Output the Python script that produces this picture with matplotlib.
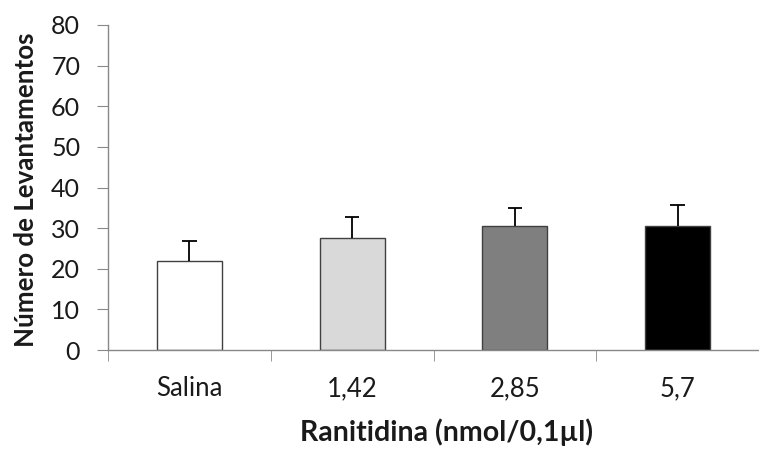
import matplotlib
matplotlib.use("Agg")
import matplotlib.pyplot as plt
import numpy as np

categories = ["Salina", "1,42", "2,85", "5,7"]
means = [22.0, 27.6, 30.6, 30.6]
errors = [4.9, 5.2, 4.4, 5.1]
colors = ["#ffffff", "#d9d9d9", "#7f7f7f", "#000000"]
yticks = [0, 10, 20, 30, 40, 50, 60, 70, 80]

plt.rcParams['font.family'] = ['Lato', 'DejaVu Sans']

fig = plt.figure(figsize=(7.59, 4.49), dpi=100)
ax = fig.add_axes([108/759, 1-350/449, 1-108/759, (350-25)/449])

x = np.arange(len(categories))
means_a = np.array(means)
errs_a = np.array(errors)
ax.bar(x, means_a, width=0.4, color=colors, edgecolor="#404040", linewidth=1.0, zorder=2)
ax.vlines(x, means_a, means_a + errs_a, color="black", linewidth=1.3, zorder=3)
ax.hlines(means_a + errs_a, x - 0.045, x + 0.045, color="black", linewidth=1.3, zorder=3)

ax.set_xlim(-0.5, len(categories) - 0.5)
ax.set_ylim(0, 80)
ax.set_yticks(yticks)
ax.set_yticklabels([str(v) for v in yticks])
ax.set_xticks(x)
ax.set_xticklabels(categories)
ax.set_xticks(np.arange(len(categories)) - 0.5, minor=True)
ax.tick_params(axis="x", which="major", length=0, pad=19, labelsize=18.5, labelcolor="#1a1a1a")
ax.tick_params(axis="x", which="minor", length=8, color="#888888", direction="out")
ax.tick_params(axis="y", length=8, color="#888888", direction="out", labelsize=18, pad=12, labelcolor="#1a1a1a")

for s in ["top", "right"]:
    ax.spines[s].set_visible(False)
for s in ["left", "bottom"]:
    ax.spines[s].set_color("#888888")
    ax.spines[s].set_linewidth(1.0)

ax.set_xlabel("Ranitidina (nmol/0,1µl)", fontsize=20.5, fontweight="bold", color="#1a1a1a")
ax.set_ylabel("Número de Levantamentos", fontsize=18.6, fontweight="bold", color="#1a1a1a")
ax.xaxis.set_label_coords((447 - 108) / 651, (350 - 432) / 325)
ax.xaxis.label.set_va("center")
ax.yaxis.set_label_coords((26 - 108) / 651, (350 - 190) / 325)
ax.yaxis.label.set_va("center")

fig.savefig("out.png", dpi=100)
